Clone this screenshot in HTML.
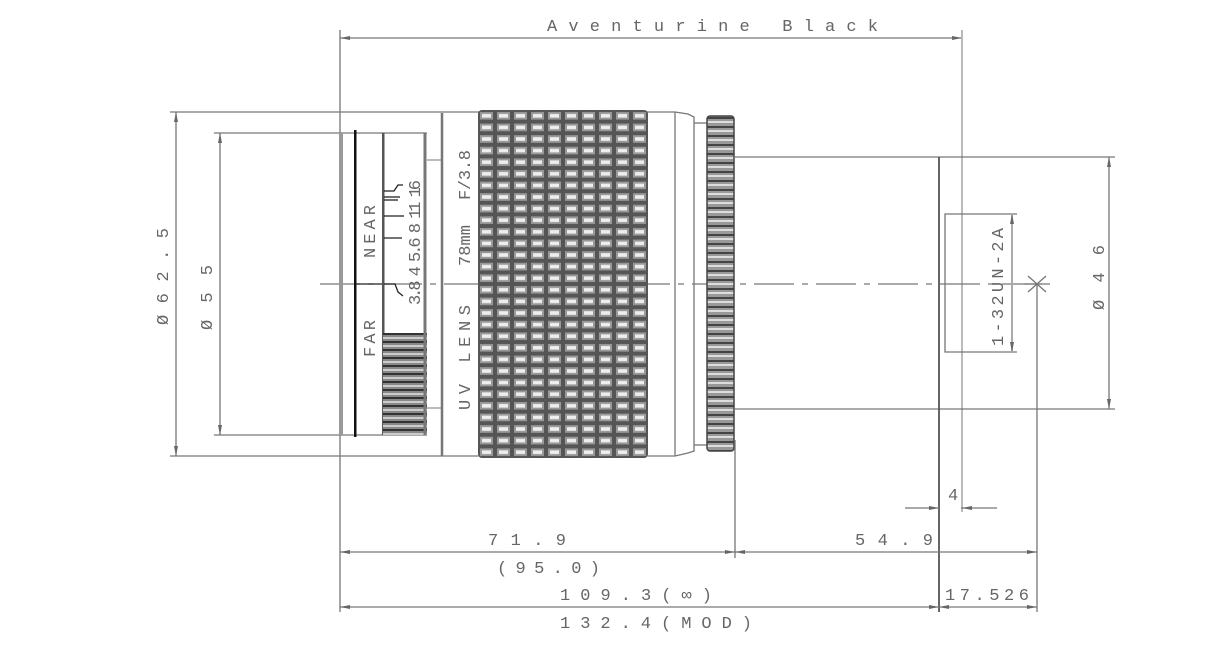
<!DOCTYPE html>
<html><head><meta charset="utf-8"><style>
html,body{margin:0;padding:0;background:#fff;}
svg{display:block;}
text{font-family:"Liberation Mono","DejaVu Sans Mono",monospace;fill:#666;font-size:17px;}
</style></head><body>
<svg width="1213" height="663" viewBox="0 0 1213 663" xmlns="http://www.w3.org/2000/svg">
<defs>
<pattern id="knurl" x="478" y="110" width="17" height="11.6" patternUnits="userSpaceOnUse">
<rect width="17" height="11.6" fill="#555"/>
<rect x="2" y="2" width="13" height="7.6" fill="#999"/>
<rect x="4" y="4" width="9" height="3.6" fill="#eee"/>
</pattern>
<pattern id="ring" x="0" y="117" width="29" height="9" patternUnits="userSpaceOnUse">
<rect width="29" height="9" fill="#999"/>
<rect y="0" width="29" height="2" fill="#444"/>
<rect y="4" width="29" height="2" fill="#ddd"/>
</pattern>
<pattern id="ring2" x="0" y="333" width="44" height="8" patternUnits="userSpaceOnUse">
<rect width="44" height="8" fill="#888"/>
<rect y="0" width="44" height="2" fill="#333"/>
<rect y="4" width="44" height="2" fill="#ccc"/>
</pattern>
</defs>
<g stroke="#777" stroke-width="1.3" fill="none">
<line x1="340" y1="38" x2="962" y2="38"/>
<line x1="340" y1="30" x2="340" y2="612"/>
<line x1="962" y1="30" x2="962" y2="512" stroke="#bbb" stroke-width="2"/>
<line x1="170" y1="112" x2="442" y2="112"/>
<line x1="170" y1="456" x2="442" y2="456"/>
<line x1="176" y1="112" x2="176" y2="456"/>
<line x1="214" y1="133" x2="427" y2="133"/>
<line x1="214" y1="435" x2="427" y2="435"/>
<line x1="220" y1="133" x2="220" y2="435"/>
<line x1="320" y1="284" x2="1050" y2="284" stroke-dasharray="40,8,6,8"/>
</g>
<rect x="339" y="133" width="4" height="302" fill="#999"/>
<rect x="354" y="130" width="2.5" height="307" fill="#111"/>
<rect x="382" y="133" width="2.5" height="302" fill="#555"/>
<rect x="383" y="333" width="44" height="102" fill="url(#ring2)"/>
<line x1="425" y1="133" x2="425" y2="435" stroke="#777" stroke-width="3"/>
<line x1="427" y1="160" x2="442" y2="160" stroke="#777"/>
<line x1="427" y1="408" x2="442" y2="408" stroke="#777"/>
<g stroke="#222" stroke-width="1.3" fill="none">
<line x1="356" y1="284" x2="382" y2="284"/>
<polyline points="384,284 395,284 398,292 403,296"/>
<line x1="384" y1="238" x2="402" y2="238"/>
<line x1="384" y1="216" x2="404" y2="216"/>
<line x1="384" y1="200" x2="398" y2="200"/>
<line x1="384" y1="197" x2="400" y2="197"/>
<polyline points="384,191 394,191 398,185 403,185"/>
</g>
<text transform="translate(375,258) rotate(-90)" font-size="14" textLength="53" lengthAdjust="spacing">NEAR</text>
<text transform="translate(375,357) rotate(-90)" font-size="14" textLength="37" lengthAdjust="spacing">FAR</text>
<text transform="translate(420,305) rotate(-90)" font-size="12" textLength="125" lengthAdjust="spacing">3.8 4 5.6 8 11 16</text>
<g stroke="#777" stroke-width="1.3" fill="none">
<line x1="442" y1="113" x2="442" y2="456" stroke-width="2.5"/>
<line x1="442" y1="112" x2="675" y2="112"/>
<line x1="442" y1="456" x2="675" y2="456"/>
<line x1="675" y1="112" x2="675" y2="456"/>
<polyline points="675,112 688,114 694,117 694,451 688,453 675,456"/>
<line x1="694" y1="123" x2="708" y2="123"/>
<line x1="694" y1="445" x2="708" y2="445"/>
</g>
<text transform="translate(470,200) rotate(-90)" font-size="14" textLength="50" lengthAdjust="spacing">F/3.8</text>
<text transform="translate(470,266) rotate(-90)" font-size="14" textLength="41" lengthAdjust="spacing">78mm</text>
<text transform="translate(470,410) rotate(-90)" font-size="15" textLength="105" lengthAdjust="spacing">UV LENS</text>
<rect x="478" y="285" width="170" height="172" fill="#ccc"/>
<rect x="478" y="110" width="170" height="348" rx="4" fill="url(#knurl)"/>
<rect x="707" y="116" width="27" height="335" rx="3" fill="url(#ring)" stroke="#444" stroke-width="1.5"/>
<g stroke="#777" stroke-width="1.3" fill="none">
<line x1="735" y1="157" x2="1115" y2="157"/>
<line x1="735" y1="409" x2="1115" y2="409"/>
<line x1="939" y1="157" x2="939" y2="612" stroke="#555" stroke-width="1.8"/>
<line x1="735" y1="440" x2="735" y2="558"/>
<line x1="1109" y1="157" x2="1109" y2="409"/>
<polyline points="962,214 945,214 945,352 962,352"/>
<line x1="962" y1="214" x2="1017" y2="214"/>
<line x1="962" y1="352" x2="1017" y2="352"/>
<line x1="1012" y1="214" x2="1012" y2="352" stroke="#aaa" stroke-width="2"/>
<line x1="1037" y1="284" x2="1037" y2="612"/>
<line x1="1028" y1="276" x2="1046" y2="292"/>
<line x1="1046" y1="276" x2="1028" y2="292"/>
<line x1="1024" y1="284" x2="1050" y2="284"/>
<line x1="905" y1="508" x2="939" y2="508"/>
<line x1="961" y1="508" x2="997" y2="508"/>
<line x1="340" y1="552" x2="1037" y2="552"/>
<line x1="340" y1="607" x2="1037" y2="607"/>
</g>
<text transform="translate(1003,346) rotate(-90)" font-size="15" textLength="118" lengthAdjust="spacing">1-32UN-2A</text>
<text transform="translate(1104,310) rotate(-90)" font-size="17" textLength="65" lengthAdjust="spacing">Ø46</text>
<text transform="translate(168,325) rotate(-90)" font-size="17" textLength="97" lengthAdjust="spacing">Ø62.5</text>
<text transform="translate(212,330) rotate(-90)" font-size="17" textLength="65" lengthAdjust="spacing">Ø55</text>
<text x="547" y="31" font-size="17" textLength="331" lengthAdjust="spacing">Aventurine Black</text>
<text x="948" y="500" font-size="17">4</text>
<text x="488" y="545" font-size="17" textLength="78" lengthAdjust="spacing">71.9</text>
<text x="855" y="545" font-size="17" textLength="78" lengthAdjust="spacing">54.9</text>
<text x="497" y="573" font-size="17" textLength="103" lengthAdjust="spacing">(95.0)</text>
<text x="560" y="600" font-size="17" textLength="152" lengthAdjust="spacing">109.3(∞)</text>
<text x="945" y="600" font-size="15" textLength="84" lengthAdjust="spacing">17.526</text>
<text x="560" y="628" font-size="17" textLength="192" lengthAdjust="spacing">132.4(MOD)</text>
<g fill="#666">
<polygon points="340,38 350,36 350,40"/><polygon points="962,38 952,36 952,40"/>
<polygon points="176,112 174,122 178,122"/><polygon points="176,456 174,446 178,446"/>
<polygon points="220,133 218,143 222,143"/><polygon points="220,435 218,425 222,425"/>
<polygon points="1109,157 1107,167 1111,167"/><polygon points="1109,409 1107,399 1111,399"/>
<polygon points="1012,214 1010,224 1014,224"/><polygon points="1012,352 1010,342 1014,342"/>
<polygon points="340,552 350,550 350,554"/><polygon points="735,552 725,550 725,554"/><polygon points="735,552 745,550 745,554"/><polygon points="1037,552 1027,550 1027,554"/>
<polygon points="340,607 350,605 350,609"/><polygon points="939,607 929,605 929,609"/><polygon points="939,607 949,605 949,609"/><polygon points="1037,607 1027,605 1027,609"/>
<polygon points="939,508 929,506 929,510"/><polygon points="962,508 972,506 972,510"/>
</g>
</svg>
</body></html>
